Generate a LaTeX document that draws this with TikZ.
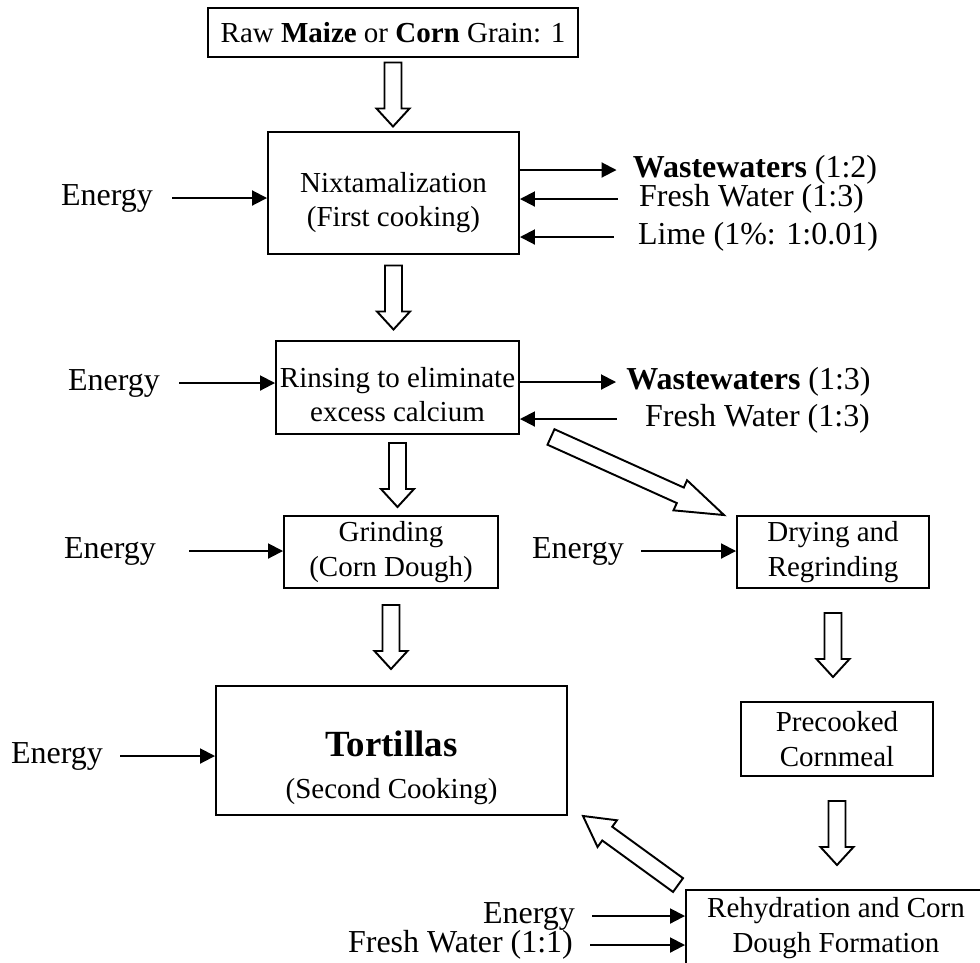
\documentclass[tikz,border=0pt]{standalone}
\usepackage{fontspec}
\setmainfont{Liberation Serif}
\usetikzlibrary{arrows.meta, calc}

\newcommand{\stagefont}{\fontsize{16.5}{19.5}\selectfont}
\newcommand{\sidefont}{\fontsize{18.2}{22}\selectfont}
\newcommand{\tortfont}{\fontsize{21}{25}\selectfont\bfseries}

\tikzset{
    stage/.style={draw, line width=1.1pt, align=center, font=\stagefont, inner sep=0pt},
    side/.style={font=\sidefont, inner sep=0pt},
    feed/.style={-{Triangle[length=3mm, width=3mm]}, line width=1.1pt},
    hollow/.style={draw, line width=1.1pt, fill=white, line join=miter}
}

\newcommand{\hollowarrow}[3][3.6mm]{%
    \coordinate (ha-base) at ($(#3)!#1!(#2)$);
    \draw[hollow] ($(#2)!1.7mm!90:(#3)$) -- ($(ha-base)!1.7mm!90:(#3)$)
        -- ($(ha-base)!3.3mm!90:(#3)$) -- (#3)
        -- ($(ha-base)!3.3mm!-90:(#3)$) -- ($(ha-base)!1.7mm!-90:(#3)$)
        -- ($(#2)!1.7mm!-90:(#3)$) -- cycle;}

\newcommand{\flowdown}[2]{%
    \coordinate (fd-mid) at ($(#1.south)!.5!(#2.north -| #1.south)$);
    \coordinate (fd-a) at ($(fd-mid)+(0,-32)$);
    \coordinate (fd-b) at ($(fd-mid)+(0,32)$);
    \hollowarrow{fd-a}{fd-b}}

\begin{document}
\begin{tikzpicture}[x=0.2mm, y=-0.2mm]
    \useasboundingbox (0,0) rectangle (980,962);

    \node[stage, minimum width=74mm, minimum height=9.8mm] (raw) at (393,32.5)
        {Raw \textbf{Maize} or \textbf{Corn} Grain: 1};
    \node[stage, minimum width=50.2mm, minimum height=24.4mm, text height=42pt] (nix) at (393.5,193)
        {Nixtamalization\\(First cooking)};
    \node[stage, minimum width=48.6mm, minimum height=18.6mm, text height=38.7pt] (rinse) at (397.5,387.5)
        {Rinsing to eliminate\\excess calcium};
    \node[stage, minimum width=42.8mm, minimum height=14.4mm] (grind) at (391,552)
        {Grinding\\(Corn Dough)};
    \node[stage, minimum width=38.4mm, minimum height=14.4mm] (dry) at (833,552)
        {Drying and\\Regrinding};
    \node[stage, minimum width=70.2mm, minimum height=25.8mm, text height=58pt] (tort) at (391.5,750.5)
        {{\tortfont Tortillas}\\[4.5pt](Second Cooking)};
    \node[stage, minimum width=38.4mm, minimum height=14.8mm] (pre) at (837,739)
        {Precooked\\Cornmeal};
    \node[stage, minimum width=60mm, minimum height=15.2mm] (rehyd) at (836,928)
        {Rehydration and Corn\\Dough Formation};

    \node[side] (en1) at (107,198) {Energy};
    \node[side] (en2) at (114,383) {Energy};
    \node[side] (en3) at (110,551) {Energy};
    \node[side] (en4) at (57,756) {Energy};
    \node[side] (en5) at (578,551) {Energy};
    \node[side] (en6) at (529,916) {Energy};
    \node[side] (fw3) at (460.5,945) {Fresh Water (1:1)};
    \node[side] (ww1) at (755,170) {\textbf{Wastewaters} (1:2)};
    \node[side] (fw1) at (751.5,199) {Fresh Water (1:3)};
    \node[side] (lime) at (758,237) {Lime (1\%: 1:0.01)};
    \node[side] (ww2) at (748.5,382) {\textbf{Wastewaters} (1:3)};
    \node[side] (fw2) at (757.5,419) {Fresh Water (1:3)};

    \draw[feed, shorten <=3.8mm] (en1.east) -- (nix.west |- en1);
    \draw[feed, shorten <=3.8mm] (en2.east) -- (rinse.west |- en2);
    \draw[feed, shorten <=6.6mm] (en3.east) -- (grind.west |- en3);
    \draw[feed, shorten <=3.4mm] (en4.east) -- (tort.west |- en4);
    \draw[feed, shorten <=3.4mm] (en5.east) -- (dry.west |- en5);
    \draw[feed, shorten <=3.4mm] (en6.east) -- (rehyd.west |- en6);
    \draw[feed, shorten <=3.4mm] (fw3.east) -- (rehyd.west |- fw3);
    \draw[feed, shorten >=3.2mm] (nix.east |- ww1) -- (ww1.west);
    \draw[feed, shorten <=4.2mm] (fw1.west) -- (nix.east |- fw1);
    \draw[feed, shorten <=4.8mm] (lime.west) -- (nix.east |- lime);
    \draw[feed, shorten >=2mm] (rinse.east |- ww2) -- (ww2.west);
    \draw[feed, shorten <=5.6mm] (fw2.west) -- (rinse.east |- fw2);

    \flowdown{raw}{nix}
    \flowdown{nix}{rinse}
    \flowdown{rinse}{grind}
    \flowdown{grind}{tort}
    \flowdown{dry}{pre}
    \flowdown{pre}{rehyd}

    \coordinate (tail1) at ($(rinse.south east)+(31,2)$);
    \coordinate (tip1) at ($(dry.north west)+(-12,0)$);
    \hollowarrow[9.6mm]{tail1}{tip1}
    \coordinate (tail2) at ($(rehyd.north west)+(-7,-4)$);
    \coordinate (tip2) at ($(tort.south east)+(15,0)$);
    \hollowarrow[6mm]{tail2}{tip2}
\end{tikzpicture}
\end{document}
